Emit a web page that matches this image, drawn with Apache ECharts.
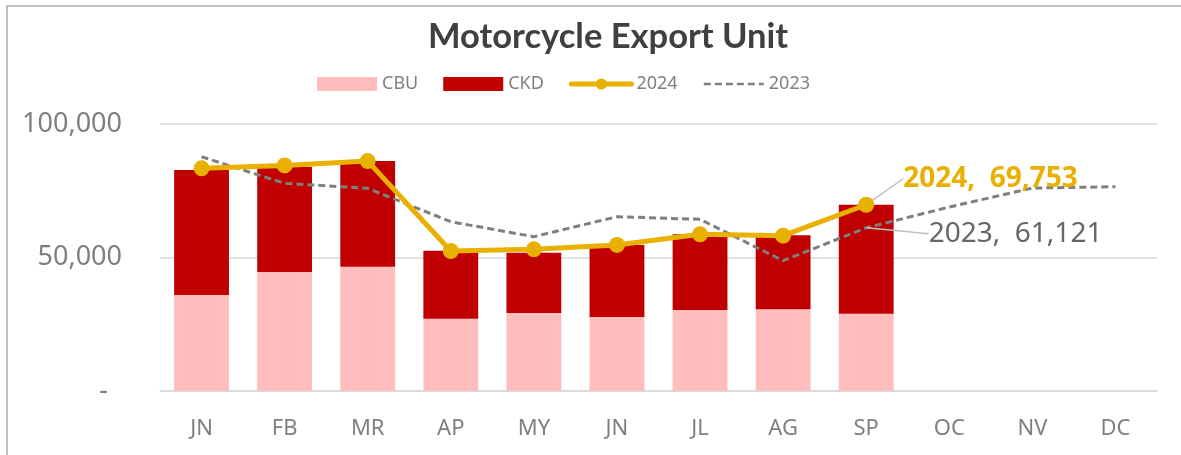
<!DOCTYPE html>
<html>
<head>
<meta charset="utf-8">
<title>Motorcycle Export Unit</title>
<script src="https://cdn.jsdelivr.net/npm/echarts@6/dist/echarts.min.js"></script>
<style>
  html, body { margin: 0; padding: 0; background: #fff; }
  #chart { width: 1181px; height: 455px; }
</style>
</head>
<body>
<div id="chart"></div>
<script>
// month labels as they appear on the axis
const months = ['JN', 'FB', 'MR', 'AP', 'MY', 'JN', 'JL', 'AG', 'SP', 'OC', 'NV', 'DC']
// 2024 stacked bars (units)
const cbu = [35950, 44570, 46560, 27080, 29200, 27710, 30330, 30590, 28950]
const ckd = [46820, 39430, 39540, 25470, 22600, 26970, 28350, 27710, 40803]
// total lines
const total2024 = [83400, 84500, 86100, 52430, 53050, 54700, 58680, 58170, 69753]
const total2023 = [87750, 77780, 75900, 63400, 57800, 65280, 64300, 48800, 61121, 68900, 76000, 76500]
// the month that carries the callout labels
const labelIndex = 8

const fmt = v => v.toLocaleString('en-US')

const chart = echarts.init(document.getElementById('chart'))

chart.setOption({
  animation: false,
  backgroundColor: '#fff',
  title: {
    text: 'Motorcycle Export Unit',
    left: 428,
    top: 19,
    padding: 0,
    textStyle: {
      fontFamily: 'Lato',
      fontWeight: 'bold',
      fontSize: 34.5,
      color: '#404040'
    }
  },
  legend: {
    left: 317,
    top: 75,
    padding: 0,
    itemWidth: 60,
    itemHeight: 14,
    itemGap: 25,
    textStyle: {
      fontFamily: 'Noto Sans',
      fontSize: 18,
      color: '#808080'
    },
    data: [
      { name: 'CBU', icon: 'rect' },
      { name: 'CKD', icon: 'rect' },
      { name: '2024', lineStyle: { width: 5, cap: 'round' } },
      { name: '2023', lineStyle: { width: 2.5 }, itemStyle: { opacity: 0 } }
    ]
  },
  grid: {
    left: 160,
    right: 24,
    top: 124,
    bottom: 64
  },
  xAxis: {
    type: 'category',
    data: months,
    axisLine: { lineStyle: { color: '#d9d9d9', width: 1.5 } },
    axisTick: { show: false },
    axisLabel: {
      margin: 27,
      fontFamily: 'Noto Sans',
      fontSize: 22,
      color: '#7f7f7f'
    }
  },
  yAxis: {
    type: 'value',
    min: 0,
    max: 100000,
    interval: 50000,
    axisLine: { show: false },
    axisTick: { show: false },
    splitLine: { lineStyle: { color: '#d9d9d9', width: 1.5 } },
    axisLabel: {
      margin: 38,
      fontFamily: 'Noto Sans',
      fontSize: 27,
      color: '#7f7f7f',
      formatter: v => (v === 0 ? '-  ' : fmt(v))
    }
  },
  graphic: [
    {
      // outer frame of the chart area (top and left edges visible)
      type: 'rect',
      silent: true,
      shape: { x: 7, y: 6, width: 1300, height: 600 },
      style: { fill: 'none', stroke: '#c0c0c0', lineWidth: 2 }
    }
  ],
  series: [
    {
      name: 'CBU',
      type: 'bar',
      stack: 'units',
      barWidth: '66%',
      itemStyle: { color: '#ffbdbd' },
      data: cbu
    },
    {
      name: 'CKD',
      type: 'bar',
      stack: 'units',
      barWidth: '66%',
      itemStyle: { color: '#c00000' },
      data: ckd
    },
    {
      name: '2023',
      type: 'line',
      symbol: 'none',
      lineStyle: { color: '#7f7f7f', width: 3, type: [7, 4] },
      itemStyle: { color: '#7f7f7f' },
      label: {
        show: false,
        position: 'right',
        fontFamily: 'Noto Sans',
        fontSize: 28,
        color: '#666666',
        formatter: p => p.seriesName + ',  ' + fmt(p.value)
      },
      labelLayout: { dx: 57, dy: 6 },
      labelLine: { show: true, lineStyle: { color: '#bfbfbf', width: 1.5 } },
      data: total2023.map((v, i) =>
        i === labelIndex
          ? { value: v, symbol: 'circle', symbolSize: 1, label: { show: true } }
          : v
      )
    },
    {
      name: '2024',
      type: 'line',
      symbol: 'circle',
      symbolSize: 16,
      lineStyle: { color: '#e8b000', width: 5 },
      itemStyle: { color: '#e8b000' },
      label: {
        show: false,
        position: 'right',
        fontFamily: 'Noto Sans',
        fontWeight: 'bold',
        fontSize: 28,
        color: '#e8b000',
        formatter: p => p.seriesName + ',  ' + fmt(p.value)
      },
      labelLayout: { dx: 24, dy: -26 },
      labelLine: { show: true, lineStyle: { color: '#bfbfbf', width: 1.5 } },
      data: total2024.map((v, i) =>
        i === labelIndex ? { value: v, label: { show: true } } : v
      )
    }
  ]
})
</script>
</body>
</html>
